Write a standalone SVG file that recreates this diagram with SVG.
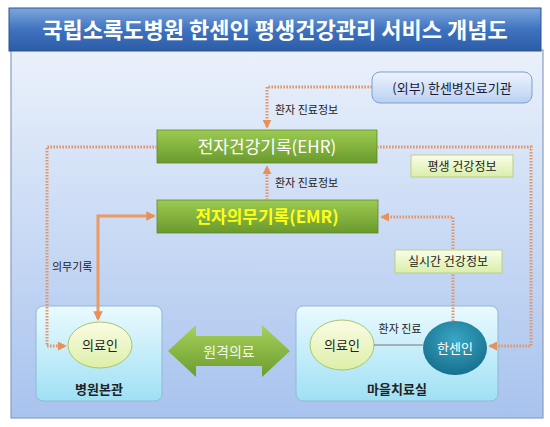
<svg xmlns="http://www.w3.org/2000/svg" width="550" height="427" viewBox="0 0 550 427">
<defs>
<linearGradient id="gTitle" x1="0" y1="0" x2="0" y2="1">
<stop offset="0" stop-color="#7ea6dd"/><stop offset="0.5" stop-color="#3f73bf"/><stop offset="1" stop-color="#2c5ca6"/>
</linearGradient>
<linearGradient id="gPanel" x1="0" y1="0" x2="0" y2="1">
<stop offset="0" stop-color="#eaf1fb"/><stop offset="1" stop-color="#a8c3ee"/>
</linearGradient>
<linearGradient id="gGreen" x1="0" y1="0" x2="0" y2="1">
<stop offset="0" stop-color="#9ccb52"/><stop offset="1" stop-color="#6a9a2c"/>
</linearGradient>
<linearGradient id="gExt" x1="0" y1="0" x2="0" y2="1">
<stop offset="0" stop-color="#eef4fd"/><stop offset="1" stop-color="#b9d0f2"/>
</linearGradient>
<linearGradient id="gLbl" x1="0" y1="0" x2="0" y2="1">
<stop offset="0" stop-color="#fbfde8"/><stop offset="1" stop-color="#d9eeaa"/>
</linearGradient>
<linearGradient id="gRoom" x1="0" y1="0" x2="0" y2="1">
<stop offset="0" stop-color="#eafaff"/><stop offset="1" stop-color="#9fe0f4"/>
</linearGradient>
<linearGradient id="gDoc" x1="0" y1="0" x2="0" y2="1">
<stop offset="0" stop-color="#fbfce4"/><stop offset="1" stop-color="#dcefa8"/>
</linearGradient>
<radialGradient id="gPat" cx="0.5" cy="0.35" r="0.65">
<stop offset="0" stop-color="#3aa6c4"/><stop offset="1" stop-color="#16708e"/>
</radialGradient>
<linearGradient id="gArr" x1="0" y1="0" x2="0" y2="1">
<stop offset="0" stop-color="#a7d15c"/><stop offset="1" stop-color="#6c9c2c"/>
</linearGradient>
<marker id="aDot" viewBox="0 0 10 10" refX="8" refY="5" markerWidth="3" markerHeight="3" orient="auto">
<path d="M0,0 L10,5 L0,10 z" fill="#e8905a"/>
</marker>
<marker id="aSol" viewBox="0 0 10 10" refX="8" refY="5" markerWidth="3.2" markerHeight="3.2" orient="auto-start-reverse">
<path d="M0,0 L10,5 L0,10 z" fill="#e8905a"/>
</marker>
</defs>
<style>
text{font-family:"Noto Sans CJK KR","Noto Sans",sans-serif;}
.dot{fill:none;stroke:#e3956a;stroke-width:3;stroke-dasharray:1.6 1.4;}
.sol{fill:none;stroke:#eb9a62;stroke-width:3;}
.lbl{font-size:11px;fill:#222;}
.box{stroke:#b9cf8a;stroke-width:1;}
</style>
<rect x="11" y="50" width="532" height="368" fill="url(#gPanel)" stroke="#8a9fbe" stroke-width="1.2"/>
<g id="title">
<rect x="9" y="8" width="532" height="43" fill="url(#gTitle)" stroke="#2d5490" stroke-width="1"/>
<text x="275" y="38" text-anchor="middle" font-size="22" font-weight="bold" fill="#fff">국립소록도병원 한센인 평생건강관리 서비스 개념도</text>
</g>
<g id="ext">
<rect x="372" y="72" width="160" height="31" rx="8" fill="url(#gExt)" stroke="#7f9fce" stroke-width="1"/>
<text x="452" y="93" text-anchor="middle" font-size="13" fill="#1a1a3a">(외부) 한센병진료기관</text>
</g>
<g id="ehr">
<rect x="157" y="130" width="220" height="33" fill="url(#gGreen)" stroke="#5f8a28" stroke-width="0.8"/>
<text x="267" y="153" text-anchor="middle" font-size="17" fill="#fff">전자건강기록(EHR)</text>
</g>
<g id="emr">
<rect x="157" y="200" width="221" height="33" fill="url(#gGreen)" stroke="#5f8a28" stroke-width="0.8"/>
<text x="267" y="223" text-anchor="middle" font-size="17" font-weight="bold" fill="#ffff1a">전자의무기록(EMR)</text>
</g>
<g id="lifelong">
<rect x="411" y="155" width="102" height="22" fill="url(#gLbl)" class="box"/>
<text x="462" y="171" text-anchor="middle" font-size="12" fill="#222">평생 건강정보</text>
</g>
<g id="hq">
<rect x="36" y="306" width="126" height="95" rx="7" fill="url(#gRoom)" stroke="#8fb8d6" stroke-width="1"/>
<ellipse cx="100" cy="345" rx="32" ry="23" fill="url(#gDoc)" stroke="#a9c56a" stroke-width="1"/>
<text x="100" y="350" text-anchor="middle" font-size="13" fill="#222">의료인</text>
<text x="99" y="394" text-anchor="middle" font-size="13" font-weight="bold" fill="#222">병원본관</text>
</g>
<g id="tele">
<path d="M168,351 L196,325 L196,336 L262,336 L262,325 L290,351 L262,377 L262,366 L196,366 L196,377 Z" fill="url(#gArr)"/>
<text x="229" y="357" text-anchor="middle" font-size="14" fill="#f4f8e8">원격의료</text>
</g>
<g id="village">
<rect x="296" y="306" width="202" height="95" rx="7" fill="url(#gRoom)" stroke="#8fb8d6" stroke-width="1"/>
<ellipse cx="342" cy="345" rx="32" ry="25" fill="url(#gDoc)" stroke="#a9c56a" stroke-width="1"/>
<text x="342" y="350" text-anchor="middle" font-size="13" fill="#222">의료인</text>
<ellipse cx="455" cy="348" rx="32" ry="27" fill="url(#gPat)"/>
<text x="455" y="353" text-anchor="middle" font-size="13" fill="#fff">한센인</text>
<text x="397" y="394" text-anchor="middle" font-size="13" font-weight="bold" fill="#222">마을치료실</text>
</g>
<g id="connectors">
<polyline class="dot" points="372,87 267,87 267,127" marker-end="url(#aDot)"/>
<polyline class="dot" points="267,200 267,167" marker-end="url(#aDot)"/>
<polyline class="dot" points="157,147 47,147 47,346 65,346" marker-end="url(#aDot)"/>
<polyline class="dot" points="377,147 531,147 531,346 490,346" marker-end="url(#aDot)"/>
<polyline class="dot" points="453,321 453,217 382,217" marker-end="url(#aDot)"/>
<polyline class="sol" points="98,319 98,216 154,216" marker-start="url(#aSol)" marker-end="url(#aSol)"/>
<line x1="374" y1="345" x2="423" y2="345" stroke="#777" stroke-width="1"/>
<text class="lbl" x="275" y="114">환자 진료정보</text>
<text class="lbl" x="275" y="187">환자 진료정보</text>
<text class="lbl" x="52" y="271">의무기록</text>
<text class="lbl" x="400" y="333" text-anchor="middle">환자 진료</text>
</g>
<g id="realtime">
<rect x="395" y="250" width="107" height="23" fill="url(#gLbl)" class="box"/>
<text x="448" y="266" text-anchor="middle" font-size="12" fill="#222">실시간 건강정보</text>
</g>
</svg>
